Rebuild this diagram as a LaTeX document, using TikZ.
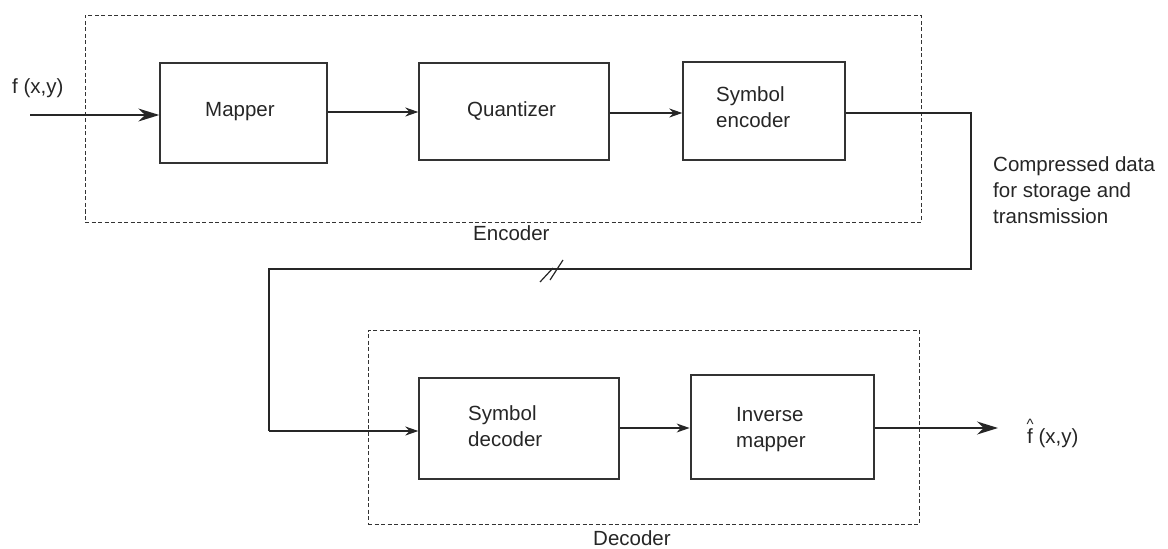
\documentclass[tikz,border=0pt]{standalone}
\usepackage{fontspec}
\setmainfont{Liberation Sans}
\usetikzlibrary{arrows.meta}
\begin{document}
\begin{tikzpicture}[x=1pt,y=-1pt,
  font=\fontsize{20.5}{26}\selectfont, text=black!85,
  box/.style={draw=black!80, line width=1.4pt, inner sep=0pt},
  txt/.style={inner sep=0pt, anchor=base west, align=left},
  grp/.style={draw=black!80, line width=1pt, dash pattern=on 4pt off 2.5pt},
  conn/.style={draw=black!85, line width=1.3pt},
  sarr/.style={conn, -{Stealth[length=13pt,width=9pt]}},
  barr/.style={conn, -{Stealth[length=21pt,width=13pt]}}]
\useasboundingbox (0,0) rectangle (1168,549);
% group frames
\node[grp, minimum width=836, minimum height=207] (encg) at (503,118.5) {};
\node[grp, minimum width=551, minimum height=194] (decg) at (643.5,427) {};
\node[txt] (encl) at (473,240) {Encoder};
\node[txt] (decl) at (593,545) {Decoder};
% blocks
\node[box, minimum width=167, minimum height=100] (map) at (243.5,113) {};
\node[box, minimum width=190, minimum height=97] (quant) at (514,111.5) {};
\node[box, minimum width=162, minimum height=98] (senc) at (764,111) {};
\node[box, minimum width=200, minimum height=101] (sdec) at (519,428.5) {};
\node[box, line width=2.8pt, minimum width=183, minimum height=104] (imap) at (782.5,427) {};
% block texts (base = baseline of last line)
\node[txt] (mapt) at (205,116.7) {Mapper};
\node[txt] (quantt) at (467,116.7) {Quantizer};
\node[txt] (senct) at (716,127.7) {Symbol\\encoder};
\node[txt] (sdect) at (468,446.7) {Symbol\\decoder};
\node[txt] (imapt) at (736,447) {Inverse\\mapper};
% signals
\node[txt] (fin) at (12,93.3) {f (x,y)};
\node[txt] (fout) at (1027,443) {\rlap{\kern-0.5pt\raisebox{14pt}{\fontsize{15}{15}\selectfont\textasciicircum}}f (x,y)};
\node[txt] (comp) at (993,223.3) {Compressed data\\for storage and\\transmission};
\coordinate (in) at (30,115);
\coordinate (out) at (998,428);
\coordinate (r1) at (971,113);
\coordinate (r2) at (971,269);
\coordinate (l1) at (269,269);
\coordinate (l2) at (269,431);
% connectors
\draw[barr] (in) -- (map.west |- in);
\draw[sarr] (map.east |- 0,112) -- (quant.west |- 0,112);
\draw[sarr] (quant.east |- 0,113) -- (senc.west |- 0,113);
\draw[conn] (senc.east |- r1) -- (r1) -- (r2) -- (l1) -- (l2);
\draw[sarr] (l2) -- (sdec.west |- l2);
\draw[sarr] (sdec.east |- 0,428) -- (imap.west |- 0,428);
\draw[barr] (imap.east |- out) -- (out);
% break mark
\coordinate (b1) at (540,282);
\coordinate (b2) at (553,268);
\coordinate (b3) at (550,280);
\coordinate (b4) at (563,260);
\draw[conn, line width=1.2pt] (b1) -- (b2) (b3) -- (b4);
\end{tikzpicture}
\end{document}
